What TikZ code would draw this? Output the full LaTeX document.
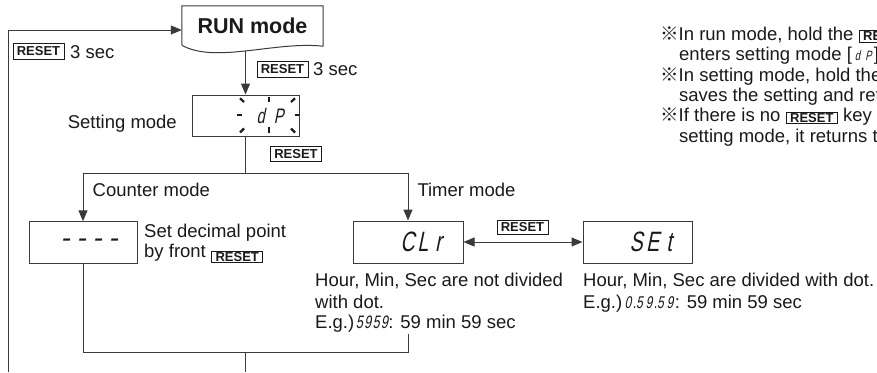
\documentclass[tikz,border=0pt]{standalone}
\usepackage{fontspec}
\setmainfont{Liberation Sans}
\newfontfamily\cjk{Noto Sans CJK JP}
\newfontfamily\segf{Liberation Sans}[FakeSlant=0.2,FakeStretch=0.7]
\newfontfamily\segw{Liberation Sans}[FakeSlant=0.2]
\usetikzlibrary{arrows.meta,calc}
\definecolor{linec}{HTML}{3A3A3A}
\definecolor{textc}{HTML}{1A1A1A}
\newcommand\sg[2]{\makebox[#1][c]{#2}}
\newcommand\sdot{\makebox[2pt][l]{.}}
\newcommand\ikey[1]{\raisebox{#1}{\setlength\fboxsep{0.8pt}\setlength\fboxrule{0.9pt}\fbox{\fontsize{13}{13}\selectfont\bfseries\hspace{2.8pt}RESET\hspace{2.8pt}}}}
\newcommand\ssmall[2]{{\segf\fontsize{#1}{#1}\selectfont #2}}
\begin{document}
\begin{tikzpicture}[x=1pt,y=-1pt,
  txt/.style={anchor=base west,inner sep=0pt,text=textc,font=\fontsize{18.5}{21}\selectfont},
  key/.style={draw=textc,line width=0.9pt,inner xsep=3.8pt,inner ysep=0pt,minimum height=#1,text=textc,font=\fontsize{13}{13}\selectfont\bfseries},
  key/.default=15pt,
  disp/.style={draw=linec,line width=1pt,inner sep=0pt},
  ln/.style={draw=linec,line width=1pt},
  arr/.style={ln,-{Triangle[length=11pt,width=9pt]}},
  darr/.style={ln,{Triangle[length=11pt,width=9pt]}-{Triangle[length=11pt,width=9pt]}},
  flash/.style={draw=textc,line width=2.2pt},
  seg/.style={anchor=base west,inner sep=0pt,text=textc}]
\useasboundingbox (0,0) rectangle (877,372);
\clip (0,0) rectangle (877,372);
\fill[white] (0,0) rectangle (877,372);

% RUN mode
\node[inner sep=0pt,minimum width=141pt,minimum height=39pt,text=textc,font=\fontsize{21.5}{21.5}\selectfont\bfseries] (run) at (252.5,25.5) {RUN mode};
\draw[ln] (run.south west) -- (run.north west) -- (run.north east) -- ([yshift=-1pt]run.south east) .. controls (275,41) and (215,64) .. (run.south west);

% keys and labels near top
\node[key=16pt] (k1) at (38.5,51.3) {RESET};
\node[txt] (s1) at (70,58.3) {3 sec};
\node[key=16pt] (k2) at (282.5,69) {RESET};
\node[txt] (s2) at (313,75.6) {3 sec};

% setting mode display
\node[disp,minimum width=107pt,minimum height=41pt] (dp) at (245.5,115.5) {};
\node[seg,font=\segf\fontsize{21}{21}\selectfont] (dpt) at (251.5,123.3) {\sg{18pt}{d}\sg{18pt}{P}};
\draw[flash] (237.3,115) -- (241.7,115);
\draw[flash] (294.5,115) -- (298.5,115);
\draw[flash] (269,96.7) -- (269,102.3);
\draw[flash] (269,127) -- (269,133);
\draw[flash] (240,98.3) -- (244,102);
\draw[flash] (295,98.3) -- (291,102);
\draw[flash] (240,132.5) -- (244,128.5);
\draw[flash] (295,132.5) -- (291,128.5);
\node[txt,anchor=base east] (setm) at (177,128.3) {Setting mode};

\coordinate (runout) at (245.5,51);
\draw[arr] (runout) -- (dp.north);

\node[key] (k3) at (296,154) {RESET};

% branches
\coordinate (j1) at (245.5,173);
\coordinate (jl) at (83,173);
\coordinate (jr) at (408,173);
\node[disp,minimum width=108pt,minimum height=42pt] (cnt) at (83,242.8) {};
\node[disp,minimum width=110pt,minimum height=42pt] (clr) at (408,242) {};
\node[disp,minimum width=109pt,minimum height=42pt] (set) at (637.5,242) {};
\draw[ln] (dp.south) -- (j1);
\draw[arr] (j1) -- (jl) -- (cnt.north);
\draw[arr] (j1) -- (jr) -- (clr.north);
\draw[darr] (clr.east) -- (set.west);
\node[key=14pt] (k5) at (522.5,227.5) {RESET};

\node[txt] (cm) at (92.5,196.7) {Counter mode};
\node[txt] (tm) at (417.3,196.7) {Timer mode};

% display contents
\node[seg,font=\segw\fontsize{28}{28}\selectfont] (cntt) at (57,247.8) {\sg{16pt}{-}\sg{16pt}{-}\sg{16pt}{-}\sg{16pt}{-}};
\node[seg,font=\segf\fontsize{28}{28}\selectfont] (clrt) at (399.5,251) {\sg{15.5pt}{C}\sg{15.5pt}{L}\sg{15.5pt}{r}};
\node[seg,font=\segf\fontsize{28}{28}\selectfont] (sett) at (627.7,251) {\sg{16.5pt}{S}\sg{16.5pt}{E}\sg{16.5pt}{t}};

% texts
\node[txt] (sd1) at (144,237.7) {Set decimal point};
\node[txt] (sd2) at (144,257.7) {by front \ikey{-3.8pt}};
\node[txt] (h1) at (315,286.7) {Hour, Min, Sec are not divided};
\node[txt] (h2) at (315,308.3) {with dot.};
\node[txt] (h3) at (315,328.7) {E.g.)\kern1pt\ssmall{18}{\sg{8.3pt}{5}\sg{8.3pt}{9}\sg{8.3pt}{5}\sg{8.3pt}{9}}: 59 min 59 sec};
\node[txt] (r1) at (583,286.7) {Hour, Min, Sec are divided with dot.};
\node[txt] (r2) at (583,308.3) {E.g.)\kern1pt\ssmall{17}{\sg{9.5pt}{0}\sdot\sg{9.5pt}{5}\sg{9.5pt}{9}\sdot\sg{9.5pt}{5}\sg{9.5pt}{9}}: 59 min 59 sec};

% bottom junction
\coordinate (rt) at (408,334);
\coordinate (bl) at (83,352);
\coordinate (br) at (408,352);
\coordinate (bm) at (245.5,352);
\coordinate (bend) at (245.5,372);
\draw[ln] (cnt.south) -- (bl) -- (br) -- (rt);
\draw[ln] (bm) -- (bend);

% left return loop
\coordinate (lb) at (8,372);
\coordinate (lt) at (8,30);
\draw[arr] (lb) -- (lt) -- (run.west |- lt);

% notes
\node[txt] (n1) at (660,40.3) {{\cjk ※}In run mode, hold the \ikey{-0.6pt}};
\node[txt] (n2) at (679,60.5) {enters setting mode [{\segf\fontsize{13.5}{13.5}\selectfont\sg{11pt}{d}\sg{11pt}{P}}]};
\node[txt] (n3) at (660,81.5) {{\cjk ※}In setting mode, hold the};
\node[txt] (n4) at (679,101.7) {saves the setting and ret};
\node[txt] (n5) at (660,121.7) {{\cjk ※}If there is no \ikey{-0.6pt} key};
\node[txt] (n6) at (679,142) {setting mode, it returns t};
\end{tikzpicture}
\end{document}
